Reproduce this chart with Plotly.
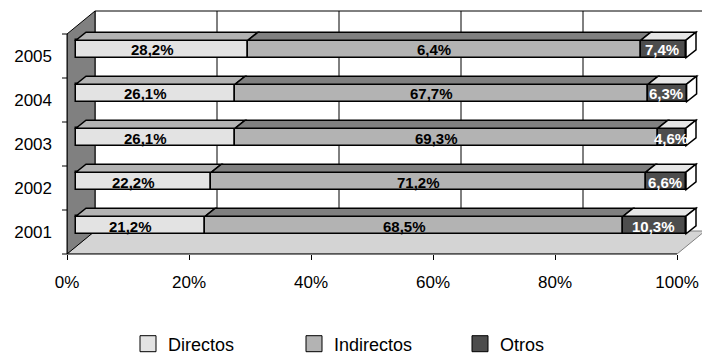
import plotly.graph_objects as go

# ---------------- data ----------------
years = ["2001", "2002", "2003", "2004", "2005"]
directos = [21.2, 22.2, 26.1, 26.1, 28.2]
indirectos = [68.5, 71.2, 69.3, 67.7, 64.4]
otros = [10.3, 6.6, 4.6, 6.3, 7.4]
lab_directos = ["21,2%", "22,2%", "26,1%", "26,1%", "28,2%"]
lab_indirectos = ["68,5%", "71,2%", "69,3%", "67,7%", "6,4%"]
lab_otros = ["10,3%", "6,6%", "4,6%", "6,3%", "7,4%"]
series_names = ["Directos", "Indirectos", "Otros"]
x_ticks = [0, 20, 40, 60, 80, 100]

# ---------------- styling / geometry ----------------
W, H = 702, 356
PX_L, PX_R, PX_T, PX_B = 67, 702, 10, 254       # plot area in px
UX = 6.1                                         # px per percent
UY = 44.0                                        # px per category
x_range = [0, (PX_R - PX_L) / UX]
y_range = [-0.5001, -0.5 + (PX_B - PX_T) / UY]

DX, DY = 28 / UX, 23 / UY          # full depth of the 3D box
BX, BY = 9 / UX, 7 / UY            # bar front face offset from front plane
DDX, DDY = 10 / UX, 8 / UY         # bar depth
BW = 0.4
TICKLEN = 5

front_cols = ["#e3e3e3", "#b3b3b3", "#4d4d4d"]
top_cols = ["#b3b3b3", "#808080", "#e6e6e6"]
label_cols = ["black", "black", "white"]
label_xshift = [-10, -10, -1]
FONT = "Liberation Sans, Arial, sans-serif"

series = [directos, indirectos, otros]
labels = [lab_directos, lab_indirectos, lab_otros]

fig = go.Figure()
shapes = []
annotations = []

y_pos = [i + BY for i in range(len(years))]

# back wall: top line and vertical gridlines
for t in x_ticks:
    shapes.append(dict(type="line", xref="x", yref="y", layer="below",
                       x0=t + DX, x1=t + DX, y0=-0.5 + DY, y1=len(years) - 0.5 + DY,
                       line=dict(color="black", width=1)))
shapes.append(dict(type="line", xref="x", yref="y", layer="below",
                   x0=DX, x1=100 + DX, y0=len(years) - 0.5 + DY, y1=len(years) - 0.5 + DY,
                   line=dict(color="black", width=1)))
# floor
shapes.append(dict(type="path", xref="x", yref="y", layer="below",
                   path=f"M0,-0.5 L100,-0.5 L{100+DX},{-0.5+DY} L{DX},{-0.5+DY} Z",
                   fillcolor="#d4d4d4", line=dict(color="#808080", width=1)))
# side wall
top = len(years) - 0.5
shapes.append(dict(type="path", xref="x", yref="y", layer="below",
                   path=f"M0,-0.5 L0,{top} L{DX},{top+DY} L{DX},{-0.5+DY} Z",
                   fillcolor="#808080", line=dict(color="black", width=1)))

# bars
cum = [0.0] * len(years)
for s, vals in enumerate(series):
    bases = [BX + c for c in cum]
    fig.add_trace(go.Bar(
        orientation="h", y=y_pos, x=vals, base=bases, width=BW,
        marker=dict(color=front_cols[s], line=dict(color="black", width=1.5)),
        showlegend=False, name=series_names[s], hoverinfo="skip"))
    for i, v in enumerate(vals):
        x0 = bases[i]
        x1 = x0 + v
        yt = y_pos[i] + BW / 2
        yb = y_pos[i] - BW / 2
        shapes.append(dict(type="path", xref="x", yref="y", layer="above",
                           path=f"M{x0},{yt} L{x1},{yt} L{x1+DDX},{yt+DDY} L{x0+DDX},{yt+DDY} Z",
                           fillcolor=top_cols[s], line=dict(color="black", width=1.5)))
        if s == len(series) - 1:
            shapes.append(dict(type="path", xref="x", yref="y", layer="above",
                               path=f"M{x1},{yb} L{x1},{yt} L{x1+DDX},{yt+DDY} L{x1+DDX},{yb+DDY} Z",
                               fillcolor="white", line=dict(color="black", width=1.5)))
        annotations.append(dict(x=x0 + v / 2, y=y_pos[i], xref="x", yref="y",
                                text=f"<b>{labels[s][i]}</b>", showarrow=False,
                                xshift=label_xshift[s], yshift=-1,
                                font=dict(family=FONT, size=15, color=label_cols[s])))
        cum[i] += v

# legend entries
for s in range(len(series)):
    fig.add_trace(go.Scatter(
        x=[None], y=[None], mode="markers", name=series_names[s],
        marker=dict(symbol="square", size=16, color=front_cols[s],
                    line=dict(color="black", width=1))))

# axis lines of the front plane (paper coordinates derived from the layout)
shapes.append(dict(type="line", xref="paper", yref="paper", layer="above",
                   x0=PX_L / W, x1=(PX_L + 100 * UX) / W, y0=1 - PX_B / H, y1=1 - PX_B / H,
                   line=dict(color="black", width=1)))
shapes.append(dict(type="line", xref="paper", yref="paper", layer="above",
                   x0=PX_L / W, x1=PX_L / W, y0=1 - PX_B / H, y1=1 - (PX_B - len(years) * UY) / H,
                   line=dict(color="black", width=1)))
# y tick marks at category boundaries
for b in range(len(years) + 1):
    yp = 1 - (PX_B - b * UY) / H
    shapes.append(dict(type="line", xref="paper", yref="paper", layer="above",
                       x0=(PX_L - TICKLEN) / W, x1=PX_L / W, y0=yp, y1=yp,
                       line=dict(color="black", width=1)))

ydom = [1 - PX_B / H, 1 - PX_T / H]
fig.update_layout(
    width=W, height=H, margin=dict(l=0, r=0, t=0, b=0, autoexpand=False),
    paper_bgcolor="white", plot_bgcolor="rgba(0,0,0,0)",
    barmode="overlay", bargap=0,
    font=dict(family=FONT, size=17, color="black"),
    shapes=shapes, annotations=annotations,
    xaxis=dict(domain=[PX_L / W, PX_R / W], range=x_range, showgrid=False, zeroline=False,
               showline=False, tickvals=x_ticks, ticktext=[f"{t}%" for t in x_ticks],
               ticks="outside", ticklen=TICKLEN, tickcolor="black", ticklabelstandoff=8,
               tickfont=dict(size=17), automargin=False),
    yaxis=dict(domain=ydom, range=y_range, showgrid=False,
               zeroline=False, showline=False,
               tickvals=list(range(len(years))), ticktext=years, ticks="",
               ticklabelstandoff=14, tickfont=dict(size=17), automargin=False),
    legend=dict(orientation="h", x=128 / W, xanchor="left", y=1 - 344 / H, yanchor="middle",
                font=dict(size=18), entrywidth=121, itemsizing="trace",
                bgcolor="rgba(0,0,0,0)"),
)

fig.write_html("out.html")
